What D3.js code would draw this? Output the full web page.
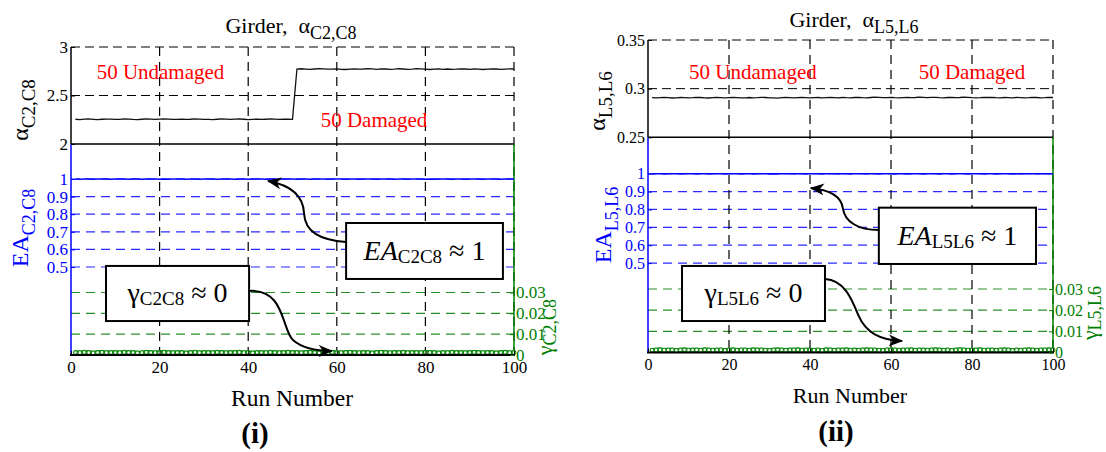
<!DOCTYPE html>
<html><head><meta charset="utf-8">
<script src="https://cdn.jsdelivr.net/npm/d3@7"></script>
<style>body{margin:0;background:#fff}svg{display:block}text{font-family:"Liberation Serif","Times New Roman",serif}</style>
</head><body><svg id="c" width="1106" height="452" font-family="Liberation Serif, Times New Roman, serif"></svg>
<script>
// ---------- data ----------
const xTicks = [0, 20, 40, 60, 80, 100];
const eaTicks = [0.5, 0.6, 0.7, 0.8, 0.9, 1];
const eaTickLabels = ["0.5", "0.6", "0.7", "0.8", "0.9", "1"];
const gammaTicks = [0, 0.01, 0.02, 0.03];
const gammaTickLabels = ["0", "0.01", "0.02", "0.03"];
const alphaTicksL = [2, 2.5, 3];
const alphaTickLabelsL = ["2", "2.5", "3"];
const alphaTicksR = [0.25, 0.3, 0.35];
const alphaTickLabelsR = ["0.25", "0.3", "0.35"];

// alpha C2,C8 : runs 1..50 undamaged, 51..100 damaged
const alphaC2C8 = [
2.255,2.252,2.256,2.258,2.254,2.251,2.255,2.257,2.256,2.253,
2.254,2.258,2.257,2.253,2.251,2.255,2.258,2.256,2.253,2.257,
2.259,2.256,2.253,2.254,2.257,2.253,2.255,2.259,2.257,2.254,
2.253,2.251,2.255,2.258,2.256,2.253,2.257,2.259,2.255,2.252,
2.254,2.257,2.253,2.255,2.258,2.256,2.253,2.257,2.255,2.254,
2.773,2.776,2.772,2.769,2.773,2.777,2.775,2.771,2.772,2.775,
2.770,2.768,2.772,2.775,2.771,2.773,2.777,2.774,2.770,2.775,
2.773,2.769,2.771,2.776,2.773,2.770,2.772,2.777,2.775,2.771,
2.768,2.772,2.775,2.770,2.773,2.769,2.771,2.775,2.773,2.770,
2.775,2.772,2.768,2.771,2.775,2.773,2.770,2.772,2.775,2.773];

const alphaL5L6 = [
0.2907,0.2905,0.2908,0.2910,0.2907,0.2904,0.2906,0.2909,0.2908,0.2905,
0.2907,0.2910,0.2909,0.2906,0.2904,0.2907,0.2909,0.2908,0.2905,0.2908,
0.2910,0.2908,0.2905,0.2906,0.2909,0.2906,0.2907,0.2910,0.2909,0.2906,
0.2905,0.2903,0.2907,0.2909,0.2908,0.2905,0.2908,0.2911,0.2908,0.2905,
0.2907,0.2909,0.2906,0.2908,0.2910,0.2908,0.2905,0.2909,0.2907,0.2906,
0.2909,0.2911,0.2908,0.2906,0.2909,0.2912,0.2910,0.2907,0.2908,0.2910,
0.2907,0.2905,0.2908,0.2910,0.2907,0.2909,0.2912,0.2910,0.2907,0.2910,
0.2911,0.2908,0.2906,0.2909,0.2911,0.2908,0.2909,0.2912,0.2910,0.2907,
0.2906,0.2908,0.2911,0.2909,0.2910,0.2907,0.2905,0.2909,0.2908,0.2906,
0.2910,0.2908,0.2905,0.2907,0.2910,0.2909,0.2906,0.2908,0.2911,0.2909];

const eaC2C8 = [
1,0.999,1,1,0.999,1,1,1,0.999,1,
1,1,0.999,1,1,0.999,1,1,1,0.999,
1,0.999,1,1,1,0.999,1,1,0.999,1,
1,1,0.999,1,1,1,0.999,1,1,0.999,
1,1,1,0.999,1,1,0.999,1,1,1,
0.999,1,1,0.999,1,1,1,0.999,1,1,
1,0.999,1,1,0.999,1,1,1,0.999,1,
1,1,0.999,1,1,0.999,1,1,1,0.999,
1,0.999,1,1,1,0.999,1,1,0.999,1,
1,1,0.999,1,1,1,0.999,1,1,1];

const eaL5L6 = [
0.999,1,1,0.999,1,1,1,0.999,1,1,
1,0.999,1,1,0.999,1,1,1,0.999,1,
1,1,0.999,1,1,0.999,1,1,1,0.999,
1,0.999,1,1,1,0.999,1,1,0.999,1,
1,1,0.999,1,1,1,0.999,1,1,0.999,
1,1,1,0.999,1,1,0.999,1,1,1,
0.999,1,1,0.999,1,1,1,0.999,1,1,
1,0.999,1,1,0.999,1,1,1,0.999,1,
1,1,0.999,1,1,0.999,1,1,1,0.999,
1,0.999,1,1,1,0.999,1,1,0.999,1];

const gammaC2C8 = [
0.0012,0.0011,0.0013,0.0012,0.0010,0.0012,0.0013,0.0011,0.0012,0.0012,
0.0011,0.0013,0.0012,0.0012,0.0010,0.0011,0.0013,0.0012,0.0011,0.0012,
0.0013,0.0012,0.0011,0.0012,0.0012,0.0010,0.0012,0.0013,0.0011,0.0012,
0.0012,0.0011,0.0013,0.0012,0.0011,0.0012,0.0012,0.0013,0.0011,0.0012,
0.0010,0.0012,0.0012,0.0011,0.0013,0.0012,0.0011,0.0012,0.0013,0.0012,
0.0012,0.0011,0.0012,0.0013,0.0012,0.0010,0.0012,0.0011,0.0013,0.0012,
0.0011,0.0012,0.0013,0.0012,0.0011,0.0012,0.0012,0.0010,0.0012,0.0013,
0.0012,0.0011,0.0012,0.0012,0.0013,0.0011,0.0012,0.0012,0.0011,0.0013,
0.0012,0.0012,0.0010,0.0012,0.0011,0.0013,0.0012,0.0012,0.0011,0.0012,
0.0013,0.0012,0.0011,0.0012,0.0012,0.0010,0.0012,0.0013,0.0011,0.0012];

const gammaL5L6 = [
0.0011,0.0012,0.0013,0.0011,0.0012,0.0012,0.0010,0.0012,0.0013,0.0011,
0.0012,0.0012,0.0011,0.0013,0.0012,0.0011,0.0012,0.0012,0.0010,0.0012,
0.0013,0.0011,0.0012,0.0012,0.0011,0.0013,0.0012,0.0012,0.0011,0.0010,
0.0012,0.0013,0.0012,0.0011,0.0012,0.0012,0.0013,0.0011,0.0012,0.0012,
0.0011,0.0012,0.0010,0.0013,0.0012,0.0011,0.0012,0.0012,0.0013,0.0011,
0.0012,0.0011,0.0012,0.0013,0.0012,0.0012,0.0011,0.0010,0.0012,0.0013,
0.0012,0.0011,0.0012,0.0012,0.0013,0.0011,0.0012,0.0012,0.0011,0.0012,
0.0013,0.0012,0.0011,0.0012,0.0010,0.0012,0.0013,0.0012,0.0011,0.0012,
0.0012,0.0013,0.0011,0.0012,0.0012,0.0011,0.0012,0.0013,0.0012,0.0010,
0.0012,0.0011,0.0012,0.0013,0.0012,0.0011,0.0012,0.0012,0.0013,0.0012];

// ---------- drawing ----------
const FONT = '"Liberation Serif", "Times New Roman", serif';
const svg = d3.select("#c");
svg.append("defs").append("marker")
  .attr("id", "ah").attr("viewBox", "0 0 12 10").attr("refX", 11).attr("refY", 5)
  .attr("markerWidth", 15).attr("markerHeight", 12).attr("markerUnits", "userSpaceOnUse")
  .attr("orient", "auto")
  .append("path").attr("d", "M0,0 L12,5 L0,10 L3.5,5 Z").attr("fill", "#000");

const BLUE = "#0000ff", GREEN = "#008000", GRIDGREEN = "#2a8f2a", GRIDBLUE = "#2b2bff";

function panel(cfg) {
  const g = svg.append("g").attr("font-family", FONT);
  const x = d3.scaleLinear().domain([0, 100]).range(cfg.xr);
  const ya = d3.scaleLinear().domain(cfg.alphaDom).range([cfg.split, cfg.top]);
  const ye = d3.scaleLinear().domain([0, 1]).range([cfg.bottom, cfg.eaTop]);
  const yg = d3.scaleLinear().domain([0, 0.03]).range([cfg.bottom, cfg.gTop]);
  const [x0, x1] = cfg.xr;

  // horizontal grids
  g.selectAll(".ga").data(cfg.alphaTicks.slice(1)).join("line")
    .attr("x1", x0).attr("x2", x1).attr("y1", d => ya(d)).attr("y2", d => ya(d))
    .attr("stroke", "#000").attr("stroke-width", 1).attr("stroke-dasharray", "9,5");
  g.selectAll(".ge").data(eaTicks).join("line")
    .attr("x1", x0).attr("x2", x1).attr("y1", d => ye(d)).attr("y2", d => ye(d))
    .attr("stroke", GRIDBLUE).attr("stroke-width", 1.2).attr("stroke-dasharray", "9,6");
  g.selectAll(".gg").data(gammaTicks.slice(1)).join("line")
    .attr("x1", x0).attr("x2", x1).attr("y1", d => yg(d)).attr("y2", d => yg(d))
    .attr("stroke", GRIDGREEN).attr("stroke-width", 1.2).attr("stroke-dasharray", "9,6");
  // vertical grids
  g.selectAll(".gx").data(xTicks.slice(1)).join("line")
    .attr("x1", d => x(d)).attr("x2", d => x(d)).attr("y1", cfg.top).attr("y2", cfg.bottom)
    .attr("stroke", "#000").attr("stroke-width", 1.2).attr("stroke-dasharray", "9,6");

  // separator line at alpha bottom
  g.append("line").attr("x1", x0).attr("x2", x1).attr("y1", cfg.split).attr("y2", cfg.split)
    .attr("stroke", "#000").attr("stroke-width", 1.5);
  // left axis: black (alpha) + blue (EA)
  g.append("line").attr("x1", x0).attr("x2", x0).attr("y1", cfg.top).attr("y2", cfg.split)
    .attr("stroke", "#000").attr("stroke-width", 1.5);
  g.append("line").attr("x1", x0).attr("x2", x0).attr("y1", cfg.split).attr("y2", cfg.bottom)
    .attr("stroke", BLUE).attr("stroke-width", 1.5);
  // right axis green
  g.append("line").attr("x1", x1).attr("x2", x1).attr("y1", cfg.split).attr("y2", cfg.bottom)
    .attr("stroke", GREEN).attr("stroke-width", 1.5);

  // data: alpha
  const line = (ys, arr) => d3.line().x((d, i) => x(i + 1)).y(d => ys(d))(arr);
  g.append("path").attr("d", line(ya, cfg.alpha)).attr("fill", "none")
    .attr("stroke", "#111").attr("stroke-width", 1.3);
  // data: EA
  g.append("path").attr("d", line(ye, cfg.ea)).attr("fill", "none")
    .attr("stroke", BLUE).attr("stroke-width", 1.6);
  // data: gamma
  g.append("path").attr("d", line(yg, cfg.gamma)).attr("fill", "none")
    .attr("stroke", "#0d8a0d").attr("stroke-width", 4.5);
  g.selectAll(".gc").data(cfg.gamma).join("circle")
    .attr("cx", (d, i) => x(i + 1)).attr("cy", d => yg(d)).attr("r", 1.9)
    .attr("fill", "#ffffff").attr("stroke", "#0d8a0d").attr("stroke-width", 1.1);

  // bottom axis
  g.append("line").attr("x1", x0 - 1).attr("x2", x1 + 1).attr("y1", cfg.bottom).attr("y2", cfg.bottom)
    .attr("stroke", "#000").attr("stroke-width", 2.2);
  const fs = cfg.tickFs;
  const styleAxis = (sel, col) => {
    sel.attr("font-family", FONT).attr("font-size", fs);
    sel.select(".domain").remove();
    sel.selectAll(".tick line").attr("stroke", col);
    sel.selectAll(".tick text").attr("fill", col);
  };
  g.append("g").attr("transform", `translate(0,${cfg.bottom})`)
    .call(d3.axisBottom(x).tickValues(xTicks).tickFormat(d => String(d)).tickSize(-4).tickPadding(6))
    .call(s => styleAxis(s, "#000"));
  g.append("g").attr("transform", `translate(${x0},0)`)
    .call(d3.axisLeft(ya).tickValues(cfg.alphaTicks).tickFormat((d, i) => cfg.alphaLabels[i]).tickSize(-4).tickPadding(3))
    .call(s => styleAxis(s, "#000"));
  g.append("g").attr("transform", `translate(${x0},0)`)
    .call(d3.axisLeft(ye).tickValues(eaTicks).tickFormat((d, i) => eaTickLabels[i]).tickSize(-4).tickPadding(3))
    .call(s => styleAxis(s, BLUE));
  g.append("g").attr("transform", `translate(${x1},0)`)
    .call(d3.axisRight(yg).tickValues(gammaTicks).tickFormat((d, i) => gammaTickLabels[i]).tickSize(-4).tickPadding(2))
    .call(s => styleAxis(s, GREEN));

  // title
  const t = g.append("text").attr("x", cfg.titleX).attr("y", cfg.titleY).attr("text-anchor", "middle")
    .attr("font-size", 22).attr("fill", "#000");
  t.append("tspan").text("Girder,\u00a0\u00a0α");
  t.append("tspan").attr("font-size", 18).attr("dy", 6).text(cfg.sub);

  // red labels
  g.append("text").attr("x", x(cfg.undamaged[0])).attr("y", ya(cfg.undamaged[1]))
    .attr("text-anchor", "middle").attr("font-size", 21).attr("fill", "#ff0000").text("50 Undamaged");
  g.append("text").attr("x", x(cfg.damaged[0])).attr("y", ya(cfg.damaged[1]))
    .attr("text-anchor", "middle").attr("font-size", 21).attr("fill", "#ff0000").text("50 Damaged");

  // axis titles
  g.append("text").attr("x", cfg.xlabelX).attr("y", cfg.xlabelY).attr("text-anchor", "middle")
    .attr("font-size", cfg.xlabelFs).text("Run Number");
  g.append("text").attr("x", cfg.tagX).attr("y", cfg.tagY).attr("text-anchor", "middle")
    .attr("font-size", 29).attr("font-weight", "bold").text(cfg.tag);

  const rot = (px, py, main, sub, col, mfs, sfs, dy) => {
    const tt = g.append("text").attr("transform", `translate(${px},${py}) rotate(-90)`)
      .attr("text-anchor", "middle").attr("fill", col);
    tt.append("tspan").attr("font-size", mfs).text(main);
    tt.append("tspan").attr("font-size", sfs).attr("dy", dy).text(sub);
  };
  rot(cfg.alphaLab[0], cfg.alphaLab[1], "α", cfg.sub, "#000", 24, 19, 7);
  rot(cfg.eaLab[0], cfg.eaLab[1], "EA", cfg.sub, BLUE, 24, 18, 7);
  rot(cfg.gLab[0], cfg.gLab[1], "γ", cfg.sub, GREEN, 22, 18, 4);

  // annotation boxes (in run / EA units)
  const box = (b, parts) => {
    const bx0 = x(b[0]), bx1 = x(b[1]), by0 = ye(b[2]), by1 = ye(b[3]);
    g.append("rect").attr("x", bx0).attr("y", by0).attr("width", bx1 - bx0).attr("height", by1 - by0)
      .attr("fill", "#fff").attr("stroke", "#000").attr("stroke-width", 2);
    const tt = g.append("text").attr("x", (bx0 + bx1) / 2).attr("y", (by0 + by1) / 2 + 9)
      .attr("text-anchor", "middle").attr("fill", "#000");
    parts.forEach(p => {
      const ts = tt.append("tspan").attr("font-size", p.fs).text(p.t);
      if (p.dy) ts.attr("dy", p.dy);
      if (p.it) ts.attr("font-style", "italic");
    });
  };
  const arrow = (pts) => {
    const P = pts.map(p => `${x(p[0])},${ye(p[1])}`);
    g.append("path").attr("d", `M${P[0]} C${P[1]} ${P[2]} ${P[3]} C${P[4]} ${P[5]} ${P[6]}`)
      .attr("fill", "none").attr("stroke", "#000").attr("stroke-width", 2).attr("marker-end", "url(#ah)");
  };
  arrow(cfg.eaArrow);
  arrow(cfg.gArrow);
  box(cfg.eaBox, [{t: "EA", fs: 28, it: true}, {t: cfg.boxSub, fs: 19, dy: 3}, {t: " ≈ 1", fs: 28, dy: -3}]);
  box(cfg.gBox, [{t: "γ", fs: 28}, {t: cfg.boxSub, fs: 19, dy: 3}, {t: " ≈ 0", fs: 28, dy: -3}]);
}

panel({
  xr: [71, 514], top: 47, split: 144, bottom: 355, eaTop: 179, gTop: 292.5,
  alphaDom: [2, 3], alphaTicks: alphaTicksL, alphaLabels: alphaTickLabelsL,
  alpha: alphaC2C8, ea: eaC2C8, gamma: gammaC2C8, tickFs: 17,
  sub: "C2,C8", boxSub: "C2C8", titleX: 291, titleY: 33,
  undamaged: [20.2, 2.67], damaged: [68.4, 2.175],
  xlabelX: 292, xlabelY: 406, xlabelFs: 23.5, tag: "(i)", tagX: 255, tagY: 443,
  alphaLab: [28, 110], eaLab: [28, 228], gLab: [552, 327],
  eaBox: [62.1, 97.5, 0.750, 0.432], gBox: [7.9, 40.2, 0.506, 0.193],
  eaArrow: [[62.1, 0.642], [56.2, 0.653], [52.8, 0.699], [52.6, 0.807], [52.4, 0.909], [49.4, 0.966], [44.5, 0.989]],
  gArrow: [[40.4, 0.364], [48.3, 0.375], [47.6, 0.142], [50.1, 0.085], [52.1, 0.040], [55.1, 0.023], [58.9, 0.023]]
});
panel({
  xr: [648, 1053], top: 40, split: 137.3, bottom: 352.5, eaTop: 173.7, gTop: 289,
  alphaDom: [0.25, 0.35], alphaTicks: alphaTicksR, alphaLabels: alphaTickLabelsR,
  alpha: alphaL5L6, ea: eaL5L6, gamma: gammaL5L6, tickFs: 16,
  sub: "L5,L6", boxSub: "L5L6", titleX: 854, titleY: 27,
  undamaged: [25.9, 0.31], damaged: [80, 0.31],
  xlabelX: 850, xlabelY: 403, xlabelFs: 22, tag: "(ii)", tagX: 836, tagY: 441,
  alphaLab: [605, 101], eaLab: [611, 225], gLab: [1097, 313],
  eaBox: [57.0, 95.8, 0.810, 0.495], gBox: [8.4, 43.7, 0.484, 0.176],
  eaArrow: [[57.0, 0.685], [51.9, 0.685], [48.6, 0.730], [48.1, 0.808], [47.7, 0.875], [44.9, 0.909], [40.2, 0.920]],
  gArrow: [[43.7, 0.411], [48.6, 0.405], [50.4, 0.294], [51.9, 0.210], [53.8, 0.109], [57.3, 0.070], [62.7, 0.064]]
});
</script></body></html>
